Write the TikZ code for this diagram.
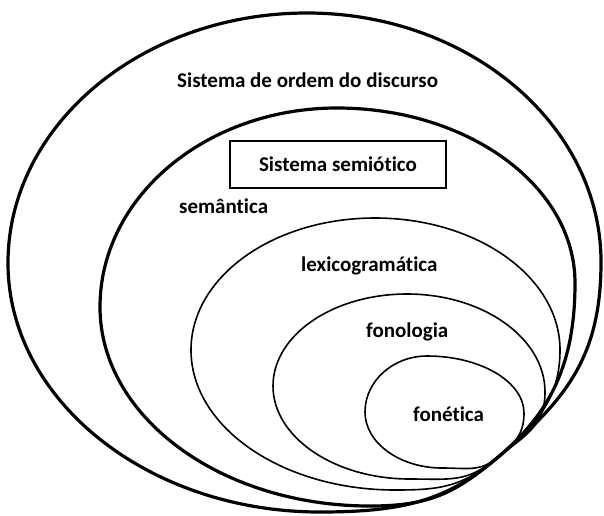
\documentclass[tikz,border=0pt]{standalone}
\usepackage{fontspec}
\setmainfont{Carlito}[Ligatures=CommonOff]
\begin{document}
\begin{tikzpicture}[x=1pt,y=-1pt,
  thickring/.style={draw=black,line width=3.2pt,line join=round},
  thinring/.style={draw=black,line width=1.6pt,line join=round},
  lbl/.style={inner sep=0pt,anchor=base west,font=\fontsize{21}{25}\selectfont\bfseries},
  framebox/.style={draw=black,line width=1.4pt,minimum width=216pt,minimum height=47pt,inner sep=0pt,font=\fontsize{21}{25}\selectfont\bfseries}]
\useasboundingbox (0,0) rectangle (604,515);
\coordinate (P) at (497,458);
% outer
\draw[thickring] (P) .. controls +(69,-58) and +(0,95) .. (601,262)
  .. controls +(0,-137) and +(162,0) .. (307,13)
  .. controls +(-165,0) and +(0,-138) .. (8,263)
  .. controls +(0,137) and +(-172,0) .. (320,512)
  .. controls +(85,0) and +(-50,42) .. (P) -- cycle;
% semantica
\draw[thickring] (P) .. controls +(54,-45) and +(0,80) .. (575,283)
  .. controls +(0,-97) and +(131,0) .. (337,108)
  .. controls +(-131,0) and +(0,-110) .. (100,307)
  .. controls +(0,110) and +(-149,0) .. (370,506)
  .. controls +(60,0) and +(-42,35) .. (P) -- cycle;
% lexicogramatica
\draw[thinring] (P) .. controls +(38,-32) and +(0,50) .. (560,350)
  .. controls +(0,-73) and +(102,0) .. (375,218)
  .. controls +(-102,0) and +(0,-73) .. (191,350)
  .. controls +(0,77) and +(-113,0) .. (395,490)
  .. controls +(45,0) and +(-35,29) .. (P) -- cycle;
% fonologia
\draw[thinring] (P) .. controls +(27,-22) and +(0,35) .. (545,392)
  .. controls +(0,-54) and +(76,0) .. (407,294)
  .. controls +(-74,0) and +(0,-51) .. (273,386)
  .. controls +(0,51) and +(-76,0) .. (410,479)
  .. controls +(40,0) and +(-30,25) .. (P) -- cycle;
% fonetica
\draw[thinring] (P) .. controls +(17,-14) and +(0,22) .. (524,413)
  .. controls +(0,-31) and +(54,0) .. (427,356)
  .. controls +(-34,0) and +(0,-31) .. (365,412)
  .. controls +(0,31) and +(-42,0) .. (442,468)
  .. controls +(25,0) and +(-17,14) .. (P) -- cycle;
\node[lbl] (ordem) at (177,87) {Sistema de ordem do discurso};
\node[framebox] (semiotico) at (338,164.5) {Sistema semiótico};
\node[lbl] (semantica) at (179,213) {semântica};
\node[lbl] (lexico) at (301,271) {lexicogramática};
\node[lbl] (fonologia) at (366,337) {fonologia};
\node[lbl] (fonetica) at (413,421) {fonética};
\end{tikzpicture}
\end{document}
